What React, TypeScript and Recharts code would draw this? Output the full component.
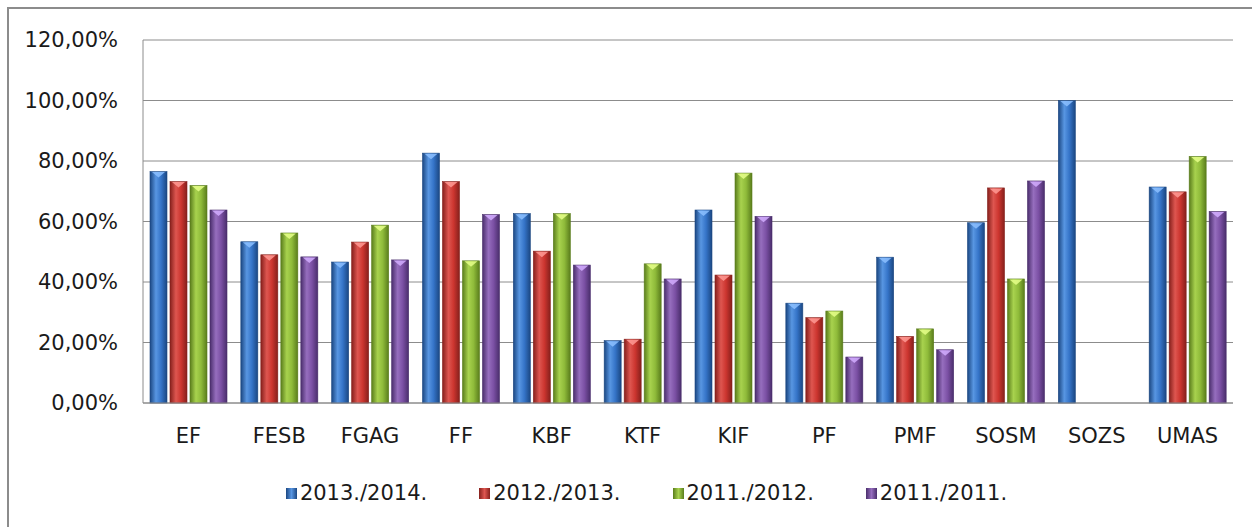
import React from 'react';
import { BarChart, Bar, XAxis, YAxis, CartesianGrid, Legend } from 'recharts';

const categories = ['EF', 'FESB', 'FGAG', 'FF', 'KBF', 'KTF', 'KIF', 'PF', 'PMF', 'SOSM', 'SOZS', 'UMAS'];
const s2013_2014 = [76.5, 53.3, 46.6, 82.6, 62.6, 20.6, 63.8, 33.0, 48.2, 59.6, 100.0, 71.4];
const s2012_2013 = [73.2, 49.0, 53.2, 73.2, 50.2, 21.1, 42.3, 28.2, 22.0, 71.1, 0, 69.8];
const s2011_2012 = [71.9, 56.2, 58.8, 47.0, 62.6, 46.0, 76.0, 30.4, 24.5, 41.0, 0, 81.5];
const s2011_2011 = [63.8, 48.3, 47.3, 62.3, 45.6, 41.0, 61.7, 15.2, 17.6, 73.4, 0, 63.3];
const seriesNames = ['2013./2014.', '2012./2013.', '2011./2012.', '2011./2011.'];
const yTicks = [0, 20, 40, 60, 80, 100, 120];

const data = categories.map((c, i) => ({
  name: c,
  a: s2013_2014[i],
  b: s2012_2013[i],
  c: s2011_2012[i],
  d: s2011_2011[i],
}));

const palette = [
  { key: 'a', dark: '#1b4782', mid: '#3574c8', light: '#5896e2', tip: '#8cc0ff' },
  { key: 'b', dark: '#86201c', mid: '#cc352f', light: '#de5650', tip: '#ff9a94' },
  { key: 'c', dark: '#5a7d1c', mid: '#8fbb3a', light: '#a8d24e', tip: '#e6ff8a' },
  { key: 'd', dark: '#4a2e6c', mid: '#7b50a4', light: '#966ebe', tip: '#d2adff' },
];

const fmt = (v: number) => `${v.toFixed(2).replace('.', ',')}%`;

const font = 'DejaVu Sans, sans-serif';
const fs = 21;

const makeShape = (idx: number) => (props: any) => {
  const { x, y, width, height } = props;
  if (!height || height <= 0) return <g />;
  const p = palette[idx];
  const cx = x + width / 2;
  return (
    <g>
      <rect x={x} y={y} width={width} height={height} fill={`url(#grad${idx})`} stroke={p.dark} strokeWidth={0.6} />
      <path d={`M${x + 2},${y + 0.5} L${x + width - 2},${y + 0.5} L${cx},${y + 6} Z`} fill={p.tip} opacity={0.85} />
    </g>
  );
};

const LegendContent = () => (
  <div style={{ display: 'flex', justifyContent: 'center', fontFamily: font, fontSize: fs, color: '#1a1a1a', paddingLeft: 60 }}>
    {seriesNames.map((n, i) => (
      <div key={n} style={{ display: 'flex', alignItems: 'center', marginRight: i < 3 ? 52 : 0 }}>
        <span
          style={{
            display: 'inline-block',
            width: 11,
            height: 11,
            marginRight: 3,
            background: `linear-gradient(90deg, ${palette[i].dark}, ${palette[i].light} 50%, ${palette[i].dark})`,
          }}
        />
        <span>{n}</span>
      </div>
    ))}
  </div>
);

export default function App() {
  return (
    <div style={{ position: 'absolute', left: 0, top: 0, width: 1252, height: 527, background: '#fff' }}>
      <div
        style={{
          position: 'absolute',
          left: 7,
          top: 7,
          width: 1245,
          height: 520,
          borderLeft: '2px solid #8c8c8c',
          borderTop: '2px solid #8c8c8c',
        }}
      />
      <div style={{ position: 'absolute', left: 0, top: 0 }}>
        <BarChart
          width={1252}
          height={527}
          data={data}
          margin={{ top: 40, right: 19, bottom: 6, left: 0 }}
          barSize={17}
          barGap={3}
        >
          <defs>
            {palette.map((p, i) => (
              <linearGradient key={i} id={`grad${i}`} x1="0" y1="0" x2="1" y2="0">
                <stop offset="0%" stopColor={p.dark} />
                <stop offset="35%" stopColor={p.light} />
                <stop offset="65%" stopColor={p.mid} />
                <stop offset="100%" stopColor={p.dark} />
              </linearGradient>
            ))}
          </defs>
          <CartesianGrid vertical={false} stroke="#8c8c8c" strokeWidth={1} />
          <XAxis
            dataKey="name"
            height={78}
            tickLine={false}
            axisLine={{ stroke: '#8c8c8c' }}
            tickMargin={19}
            tick={{ fill: '#1a1a1a', fontSize: fs, fontFamily: font }}
            interval={0}
          />
          <YAxis
            width={143}
            domain={[0, 120]}
            ticks={yTicks}
            tickFormatter={fmt}
            tickLine={false}
            axisLine={{ stroke: '#8c8c8c' }}
            tickMargin={19}
            tick={{ fill: '#1a1a1a', fontSize: fs, fontFamily: font }}
            interval={0}
          />
          <Legend verticalAlign="bottom" height={40} content={<LegendContent />} />
          {palette.map((p, i) => (
            <Bar
              key={p.key}
              dataKey={p.key}
              name={seriesNames[i]}
              fill={p.mid}
              isAnimationActive={false}
              shape={makeShape(i)}
            />
          ))}
        </BarChart>
      </div>
    </div>
  );
}
